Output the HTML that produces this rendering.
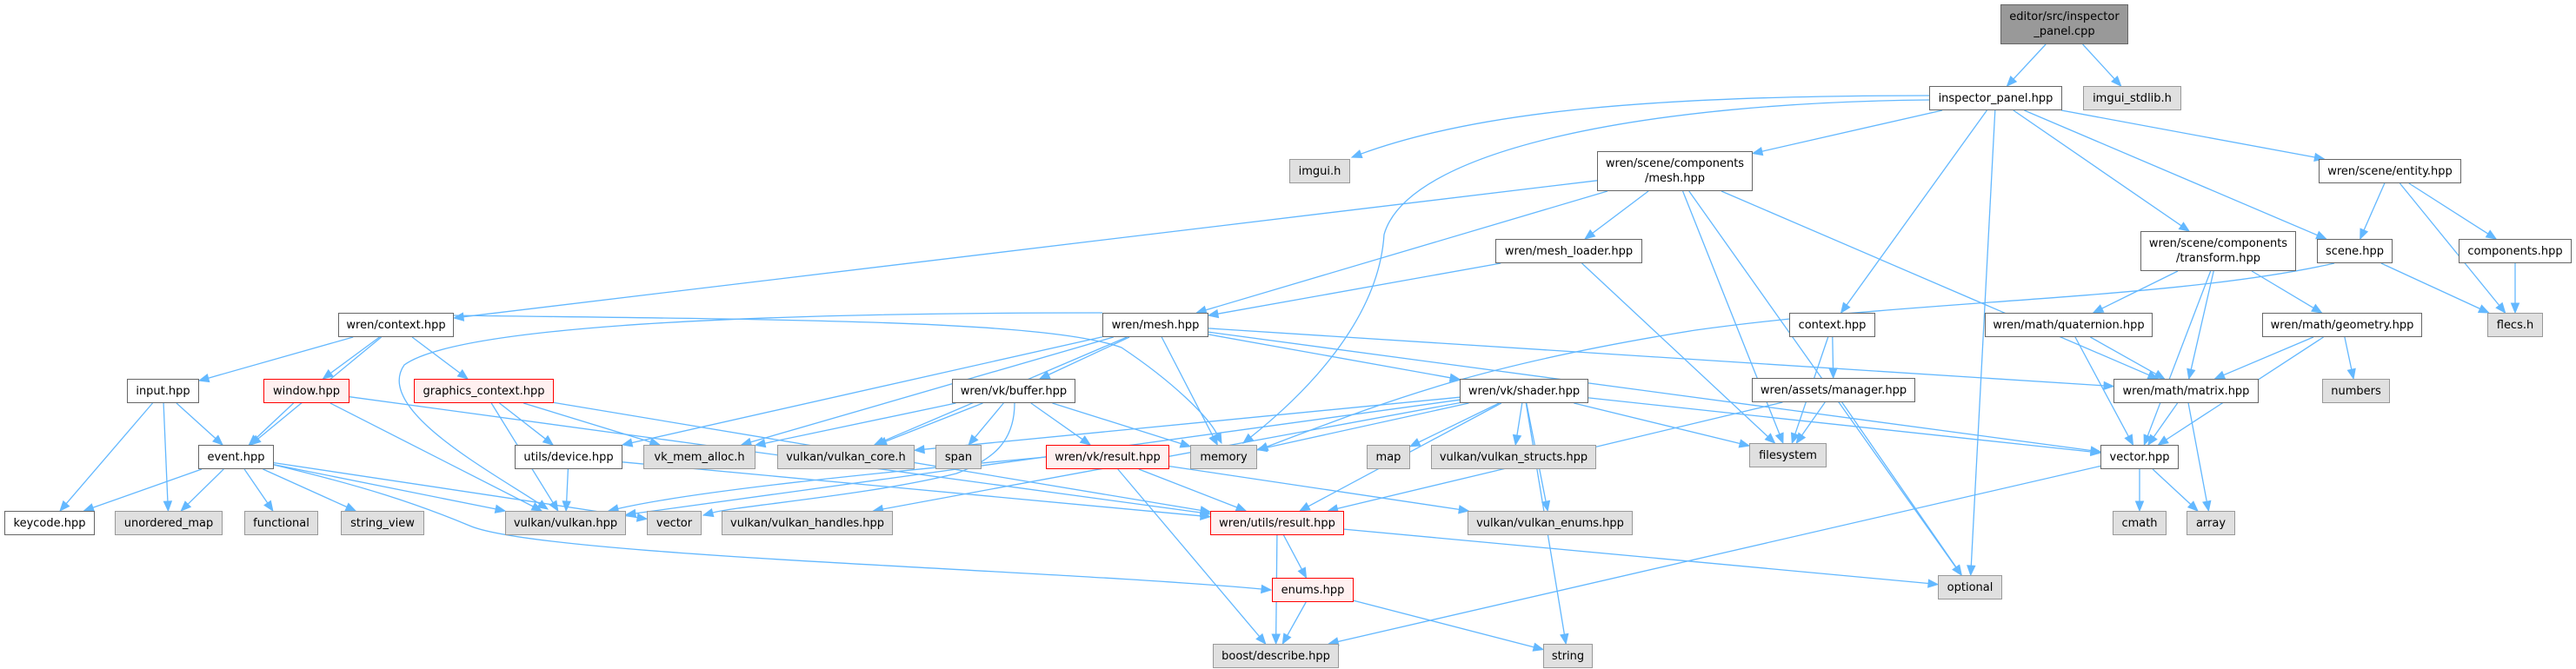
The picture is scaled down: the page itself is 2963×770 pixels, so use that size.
<!DOCTYPE html>
<html><head><meta charset="utf-8">
<style>
html,body{margin:0;padding:0;background:#fff;}
#c{position:relative;width:2963px;height:770px;overflow:hidden;}
svg{position:absolute;left:0;top:0;}
.n{position:absolute;box-sizing:border-box;border:1.5px solid #666;background:#fff;font-family:"DejaVu Sans","Liberation Sans",sans-serif;font-size:13px;color:#000;display:flex;align-items:center;justify-content:center;text-align:center;line-height:17px;white-space:nowrap;}
.g{background:#e0e0e0;border-color:#999;}
.r{background:#fff0f0;border-color:#f00;}
.d{background:#999;border-color:#666;}
</style></head><body>
<div id="c">
<svg id="s" width="2963" height="770" xmlns="http://www.w3.org/2000/svg"></svg>
<div class="n d" id="cpp" style="left:2301px;top:5px;width:147px;height:46px">editor/src/inspector<br>_panel.cpp</div>
<div class="n" id="ip" style="left:2219px;top:99px;width:153px;height:28px">inspector_panel.hpp</div>
<div class="n g" id="imgs" style="left:2396px;top:99px;width:113px;height:28px">imgui_stdlib.h</div>
<div class="n g" id="imgui" style="left:1483px;top:183px;width:70px;height:28px">imgui.h</div>
<div class="n" id="cmesh" style="left:1837px;top:174px;width:179px;height:46px">wren/scene/components<br>/mesh.hpp</div>
<div class="n" id="entity" style="left:2667px;top:183px;width:164px;height:28px">wren/scene/entity.hpp</div>
<div class="n" id="mload" style="left:1720px;top:275px;width:169px;height:28px">wren/mesh_loader.hpp</div>
<div class="n" id="transform" style="left:2462px;top:266px;width:179px;height:46px">wren/scene/components<br>/transform.hpp</div>
<div class="n" id="scene" style="left:2665px;top:275px;width:87px;height:28px">scene.hpp</div>
<div class="n" id="comps" style="left:2828px;top:275px;width:130px;height:28px">components.hpp</div>
<div class="n" id="wctx" style="left:389px;top:360px;width:133px;height:28px">wren/context.hpp</div>
<div class="n" id="wmesh" style="left:1268px;top:360px;width:122px;height:28px">wren/mesh.hpp</div>
<div class="n" id="ctx" style="left:2058px;top:360px;width:99px;height:28px">context.hpp</div>
<div class="n" id="quat" style="left:2283px;top:360px;width:193px;height:28px">wren/math/quaternion.hpp</div>
<div class="n" id="geom" style="left:2602px;top:360px;width:184px;height:28px">wren/math/geometry.hpp</div>
<div class="n g" id="flecs" style="left:2861px;top:360px;width:64px;height:28px">flecs.h</div>
<div class="n" id="input" style="left:146px;top:436px;width:83px;height:28px">input.hpp</div>
<div class="n r" id="window" style="left:303px;top:436px;width:99px;height:28px">window.hpp</div>
<div class="n r" id="gctx" style="left:476px;top:436px;width:161px;height:28px">graphics_context.hpp</div>
<div class="n" id="buffer" style="left:1095px;top:436px;width:142px;height:28px">wren/vk/buffer.hpp</div>
<div class="n" id="shader" style="left:1679px;top:436px;width:148px;height:28px">wren/vk/shader.hpp</div>
<div class="n" id="manager" style="left:2015px;top:435px;width:188px;height:28px">wren/assets/manager.hpp</div>
<div class="n" id="matrix" style="left:2431px;top:436px;width:167px;height:28px">wren/math/matrix.hpp</div>
<div class="n g" id="numbers" style="left:2671px;top:436px;width:78px;height:28px">numbers</div>
<div class="n" id="event" style="left:228px;top:512px;width:87px;height:28px">event.hpp</div>
<div class="n" id="device" style="left:592px;top:512px;width:124px;height:28px">utils/device.hpp</div>
<div class="n g" id="vkmem" style="left:740px;top:512px;width:129px;height:28px">vk_mem_alloc.h</div>
<div class="n g" id="vkcore" style="left:894px;top:512px;width:158px;height:28px">vulkan/vulkan_core.h</div>
<div class="n g" id="span" style="left:1076px;top:512px;width:53px;height:28px">span</div>
<div class="n r" id="vkres" style="left:1203px;top:512px;width:142px;height:28px">wren/vk/result.hpp</div>
<div class="n g" id="memory" style="left:1369px;top:512px;width:77px;height:28px">memory</div>
<div class="n g" id="map" style="left:1572px;top:512px;width:50px;height:28px">map</div>
<div class="n g" id="structs" style="left:1646px;top:512px;width:190px;height:28px">vulkan/vulkan_structs.hpp</div>
<div class="n g" id="fs" style="left:2012px;top:510px;width:89px;height:28px">filesystem</div>
<div class="n" id="vechpp" style="left:2416px;top:512px;width:90px;height:28px">vector.hpp</div>
<div class="n" id="keycode" style="left:5px;top:588px;width:104px;height:28px">keycode.hpp</div>
<div class="n g" id="umap" style="left:132px;top:588px;width:124px;height:28px">unordered_map</div>
<div class="n g" id="func" style="left:281px;top:588px;width:85px;height:28px">functional</div>
<div class="n g" id="sview" style="left:392px;top:588px;width:96px;height:28px">string_view</div>
<div class="n g" id="vk" style="left:581px;top:588px;width:139px;height:28px">vulkan/vulkan.hpp</div>
<div class="n g" id="vector" style="left:744px;top:588px;width:63px;height:28px">vector</div>
<div class="n g" id="handles" style="left:830px;top:588px;width:197px;height:28px">vulkan/vulkan_handles.hpp</div>
<div class="n r" id="ures" style="left:1392px;top:588px;width:154px;height:28px">wren/utils/result.hpp</div>
<div class="n g" id="venums" style="left:1688px;top:588px;width:190px;height:28px">vulkan/vulkan_enums.hpp</div>
<div class="n g" id="cmath" style="left:2430px;top:588px;width:62px;height:28px">cmath</div>
<div class="n g" id="array" style="left:2515px;top:588px;width:56px;height:28px">array</div>
<div class="n r" id="enums" style="left:1463px;top:665px;width:94px;height:28px">enums.hpp</div>
<div class="n g" id="optional" style="left:2229px;top:662px;width:74px;height:28px">optional</div>
<div class="n g" id="boost" style="left:1395px;top:741px;width:145px;height:28px">boost/describe.hpp</div>
<div class="n g" id="string" style="left:1775px;top:741px;width:57px;height:28px">string</div>
</div>
<script>
(function(){
var E=[
["cpp","ip"],["cpp","imgs"],
["ip","imgui"],["ip","cmesh"],["ip","entity"],["ip","transform"],["ip","scene"],["ip","ctx"],["ip","optional"],["ip","memory"],
["cmesh","wctx"],["cmesh","wmesh"],["cmesh","mload"],["cmesh","fs"],["cmesh","optional"],["cmesh","matrix"],
["mload","wmesh"],["mload","fs"],
["wctx","input"],["wctx","window"],["wctx","gctx"],["wctx","event"],["wctx","memory"],
["input","keycode"],["input","umap"],["input","event"],
["window","event"],["window","vk"],["window","ures"],
["gctx","device"],["gctx","vkmem"],["gctx","vk"],["gctx","ures"],
["event","keycode"],["event","umap"],["event","func"],["event","sview"],["event","vk"],["event","vector"],["event","enums"],
["device","vk"],["device","ures"],
["wmesh","buffer"],["wmesh","shader"],["wmesh","vkmem"],["wmesh","vkcore"],["wmesh","memory"],["wmesh","matrix"],["wmesh","vechpp"],["wmesh","vk"],["wmesh","device"],
["buffer","vkmem"],["buffer","vkcore"],["buffer","span"],["buffer","vkres"],["buffer","memory"],["buffer","vector"],
["vkres","vk"],["vkres","ures"],["vkres","boost"],["vkres","venums"],
["shader","map"],["shader","structs"],["shader","fs"],["shader","memory"],["shader","vechpp"],["shader","venums"],["shader","string"],["shader","ures"],["shader","handles"],["shader","vk"],["shader","vkcore"],
["ctx","fs"],["ctx","manager"],
["manager","fs"],["manager","optional"],["manager","ures"],
["ures","boost"],["ures","enums"],["ures","optional"],
["enums","boost"],["enums","string"],
["vechpp","cmath"],["vechpp","array"],["vechpp","boost"],
["matrix","vechpp"],["matrix","array"],
["quat","matrix"],["quat","vechpp"],
["geom","matrix"],["geom","vechpp"],["geom","numbers"],
["transform","quat"],["transform","matrix"],["transform","geom"],["transform","vechpp"],
["entity","scene"],["entity","comps"],["entity","flecs"],
["scene","flecs"],["scene","memory"],["comps","flecs"]
];
var C={
"ip-imgui":[[2219,110],[1900,110],[1700,128],[1555,181]],
"ip-memory":[[2219,115],[1900,118],[1620,170],[1592,270],[1585,380],[1480,470],[1430,510]],
"scene-memory":[[2685,303],[2500,345],[2200,345],[1950,380],[1700,420],[1600,460],[1447,518]],
"wctx-memory":[[522,363],[900,368],[1200,368],[1290,400],[1350,440],[1390,480],[1405,510]],
"wmesh-vk":[[1268,360],[800,360],[520,380],[465,420],[430,470],[560,540],[630,586]],
"event-enums":[[315,535],[420,560],[480,580],[540,605],[620,640],[1200,655],[1462,679]],
"buffer-vector":[[1167,464],[1167,510],[1140,530],[1100,545],[1000,570],[850,582],[809,593]],
"vkres-vk":[[1203,526],[1000,545],[800,565],[700,588]]
};
function box(id){var e=document.getElementById(id);return {x1:e.offsetLeft,y1:e.offsetTop,x2:e.offsetLeft+e.offsetWidth,y2:e.offsetTop+e.offsetHeight};}
function clip(b,cx,cy,dx,dy){
 var t=1e9;
 var hx=(b.x2-b.x1)/2,hy=(b.y2-b.y1)/2;
 if(dx!==0)t=Math.min(t,hx/Math.abs(dx));
 if(dy!==0)t=Math.min(t,hy/Math.abs(dy));
 return [cx+dx*t,cy+dy*t];
}
function f(v){return v.toFixed(1);}
var s=document.getElementById('s'),out='';
function head(px,py,ex,ey){
 var L=Math.hypot(ex-px,ey-py);var ux=(ex-px)/L,uy=(ey-py)/L;
 var hx=ex-ux*11,hy=ey-uy*11,qx=-uy*4.5,qy=ux*4.5;
 out+='<polygon points="'+f(ex)+','+f(ey)+' '+f(hx+qx)+','+f(hy+qy)+' '+f(hx-qx)+','+f(hy-qy)+'" fill="#63b8ff" stroke="#63b8ff"/>';
 return [hx,hy];
}
E.forEach(function(p){
 var k=p[0]+'-'+p[1];
 if(C[k]){
  var P=C[k],n=P.length;
  var h=head(P[n-2][0],P[n-2][1],P[n-1][0],P[n-1][1]);
  var d='M'+f(P[0][0])+','+f(P[0][1]);
  for(var i=1;i+2<n;i+=3){
   var e=(i+2==n-1)?h:P[i+2];
   d+='C'+f(P[i][0])+','+f(P[i][1])+' '+f(P[i+1][0])+','+f(P[i+1][1])+' '+f(e[0])+','+f(e[1]);
  }
  if((n-1)%3!==0){d='M'+f(P[0][0])+','+f(P[0][1]);for(var j=1;j<n-1;j++)d+='L'+f(P[j][0])+','+f(P[j][1]);d+='L'+f(h[0])+','+f(h[1]);}
  out+='<path d="'+d+'" stroke="#63b8ff" stroke-width="1.3" fill="none"/>';
  return;
 }
 var a=box(p[0]),b=box(p[1]);
 var ax=(a.x1+a.x2)/2,ay=(a.y1+a.y2)/2,bx=(b.x1+b.x2)/2,by=(b.y1+b.y2)/2;
 var dx=bx-ax,dy=by-ay;
 var st=clip(a,ax,ay,dx,dy),en=clip(b,bx,by,-dx,-dy);
 if(Math.hypot(en[0]-st[0],en[1]-st[1])<1)return;
 var hh=head(st[0],st[1],en[0],en[1]);
 out+='<path d="M'+f(st[0])+','+f(st[1])+'L'+f(hh[0])+','+f(hh[1])+'" stroke="#63b8ff" stroke-width="1.3" fill="none"/>';
});
s.innerHTML=out;
})();
</script>
</body></html>
